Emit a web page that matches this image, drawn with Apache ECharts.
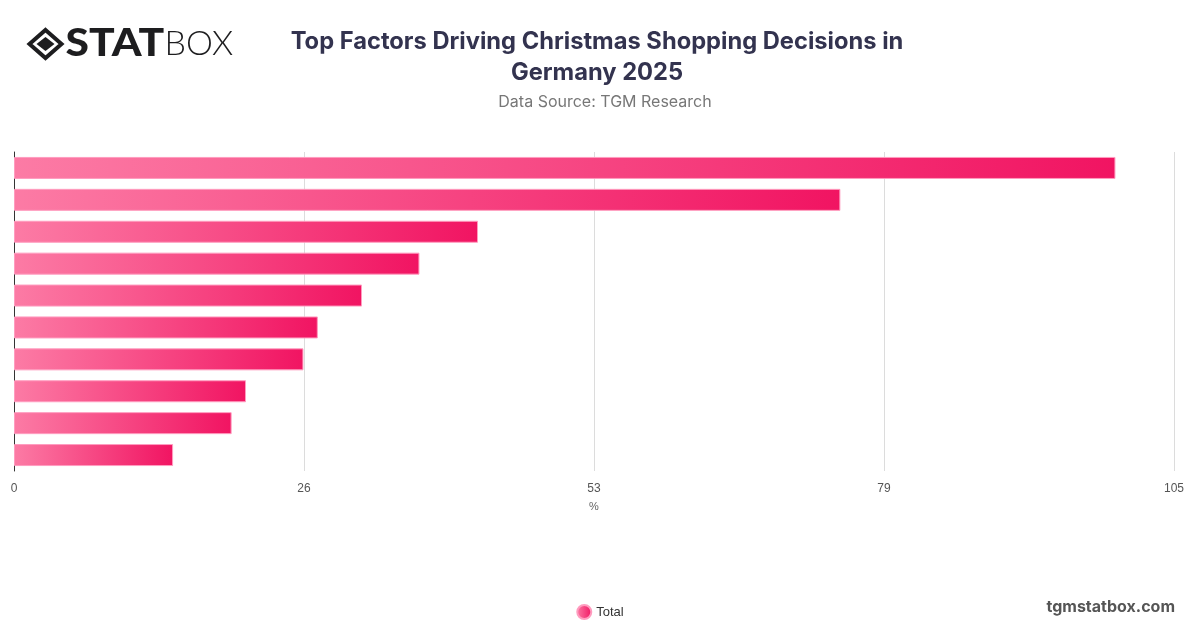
<!DOCTYPE html>
<html>
<head>
<meta charset="utf-8">
<script src="https://cdn.jsdelivr.net/npm/echarts@6/dist/echarts.min.js"></script>
<style>
html,body{margin:0;padding:0;background:#fff;}
#chart{width:1200px;height:628px;}
</style>
</head>
<body>
<div id="chart"></div>
<script>
const categories = ["Factor 1","Factor 2","Factor 3","Factor 4","Factor 5","Factor 6","Factor 7","Factor 8","Factor 9","Factor 10"];
const totalValues = [99.7, 74.8, 42.0, 36.7, 31.5, 27.5, 26.2, 21.0, 19.7, 14.4];
const seriesName = "Total";
const axisMax = 105;
const axisInterval = 26.25;

const chart = echarts.init(document.getElementById('chart'));
const barGradient = new echarts.graphic.LinearGradient(0, 0, 1, 0, [
  {offset: 0, color: '#fc7ba5'},
  {offset: 1, color: '#f11462'}
]);
const option = {
  animation: false,
  backgroundColor: '#fff',
  title: [
    {
      text: 'Top Factors Driving Christmas Shopping Decisions in\nGermany 2025',
      left: 592, top: 21, textAlign: 'center',
      textStyle: {fontFamily: 'Inter', fontSize: 23.7, fontWeight: 'bold', color: '#33334f', lineHeight: 31}
    },
    {
      text: 'Data Source: TGM Research',
      left: 600, top: 89, textAlign: 'center',
      textStyle: {fontFamily: 'Inter', fontSize: 16, fontWeight: 'normal', color: '#777'}
    }
  ],
  grid: {left: 14, right: 26, top: 152, bottom: 157, containLabel: false},
  xAxis: {
    type: 'value', min: 0, max: axisMax, interval: axisInterval,
    name: '%', nameLocation: 'middle', nameGap: 30,
    nameTextStyle: {color: '#666', fontSize: 11, fontFamily: 'Liberation Sans'},
    axisLine: {show: false}, axisTick: {show: false},
    axisLabel: {color: '#555', fontSize: 12, margin: 12, fontFamily: 'Liberation Sans', formatter: v => Math.round(v)},
    splitLine: {lineStyle: {color: '#dcdcdc', width: 1}}
  },
  yAxis: {
    type: 'category', data: categories, inverse: true,
    axisLine: {show: true, lineStyle: {color: '#333', width: 1}},
    axisTick: {show: false},
    axisLabel: {show: false}
  },
  legend: {
    bottom: 3, left: 'center', icon: 'circle', itemWidth: 14, itemHeight: 14,
    textStyle: {color: '#333', fontSize: 13, fontFamily: 'Liberation Sans'},
    data: [seriesName]
  },
  series: [{
    name: seriesName, type: 'bar', data: totalValues, barWidth: 22,
    itemStyle: {color: barGradient, borderColor: '#ff9cbf', borderWidth: 1}
  }],
  graphic: [
    {
      type: 'group', left: 27, top: 25,
      children: [
        {type: 'polygon', shape: {points: [[16,0],[32,14],[16,28],[0,14]]}, style: {fill: 'none', stroke: '#1d1d1f', lineWidth: 4}},
        {type: 'polygon', shape: {points: [[16,7],[25,14],[16,21],[7,14]]}, style: {fill: '#1d1d1f'}},
        {type: 'text', x: 36, y: -5, scaleX: 1.12, style: {text: 'STAT', fontFamily: 'Lato', fontWeight: 900, fontSize: 38, fill: '#1d1d1f'}},
        {type: 'text', x: 135, y: -3, style: {text: 'BOX', fontFamily: 'Lato', fontWeight: 300, fontSize: 34, fill: '#1d1d1f'}}
      ]
    },
    {
      type: 'text', right: 25, top: 599,
      style: {text: 'tgmstatbox.com', fontFamily: 'Inter', fontWeight: 'bold', fontSize: 16, fill: '#555'}
    }
  ]
};
chart.setOption(option);
</script>
</body>
</html>
